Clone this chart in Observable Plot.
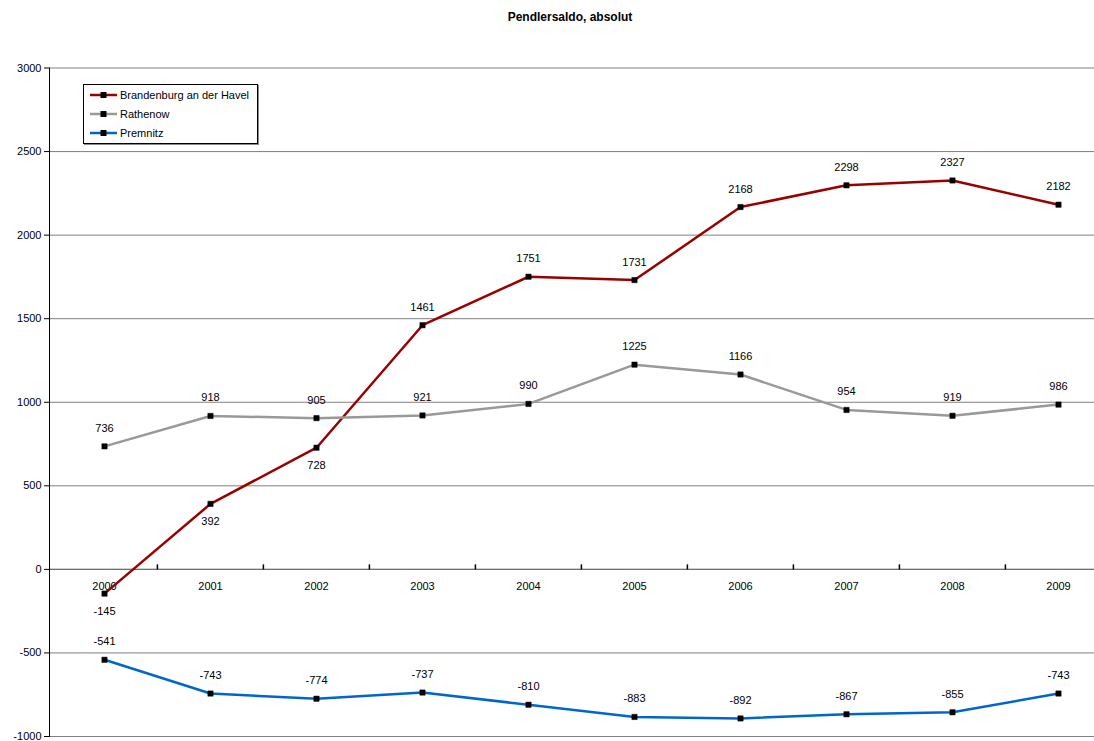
<!DOCTYPE html>
<html>
<head>
<meta charset="utf-8">
<script src="https://cdn.jsdelivr.net/npm/d3@7"></script>
<script src="https://cdn.jsdelivr.net/npm/@observablehq/plot@0.6"></script>
<style>
  body { margin: 0; background: #fff; font-family: "Liberation Sans", Arial, sans-serif; }
  #wrap { position: relative; width: 1094px; height: 741px; }
  #title { position: absolute; top: 10px; left: 0; width: 1140px; text-align: center; font-weight: bold; font-size: 12px; }
  #legend { position: absolute; left: 83px; top: 84px; width: 173px; height: 58px; border: 1px solid #000; background: #fff; font-size: 11px; box-shadow: 1px 1px 0 #888; }
  .item { display: flex; align-items: center; height: 19px; padding-left: 6px; }
  .item svg { margin-right: 3px; }
</style>
</head>
<body>
<div id="wrap">
  <div id="chart"></div>
  <div id="title">Pendlersaldo, absolut</div>
  <div id="legend"></div>
</div>
<script>
const years = [2000, 2001, 2002, 2003, 2004, 2005, 2006, 2007, 2008, 2009];
const seriesNames = ["Brandenburg an der Havel", "Rathenow", "Premnitz"];
const seriesColors = ["#990000", "#999999", "#0066CC"];
const brandenburg = [-145, 392, 728, 1461, 1751, 1731, 2168, 2298, 2327, 2182];
const rathenow = [736, 918, 905, 921, 990, 1225, 1166, 954, 919, 986];
const premnitz = [-541, -743, -774, -737, -810, -883, -892, -867, -855, -743];
const brandenburgLabelSide = ["below", "below", "below", "above", "above", "above", "above", "above", "above", "above"];
const yTicks = [-1000, -500, 0, 500, 1000, 1500, 2000, 2500, 3000];

const seriesValues = [brandenburg, rathenow, premnitz];
const data = [];
seriesValues.forEach((vals, s) => {
  vals.forEach((v, i) => {
    data.push({
      series: seriesNames[s],
      year: years[i],
      value: v,
      side: s === 0 ? brandenburgLabelSide[i] : "above"
    });
  });
});

const xRange = [50, 1112];
const halfBand = (xRange[1] - xRange[0]) / years.length / 2;
const vTick = { draw(ctx) { ctx.moveTo(0, 0); ctx.lineTo(0, -5); } };

const chart = Plot.plot({
  width: 1094,
  height: 741,
  marginLeft: 49,
  marginRight: 0,
  marginTop: 67.5,
  marginBottom: 5,
  style: { fontFamily: "Liberation Sans, Arial, sans-serif", fontSize: "11px", background: "#fff" },
  x: { type: "band", domain: years, padding: 0, range: xRange, axis: null },
  y: { domain: [-1000, 3000], range: [736, 67.5], axis: null },
  color: { domain: seriesNames, range: seriesColors },
  marks: [
    Plot.ruleY(yTicks, { stroke: "#808080", strokeWidth: 1 }),
    Plot.ruleY([0], { stroke: "#707070", strokeWidth: 1.2 }),
    Plot.frame({ anchor: "left", stroke: "#000" }),
    Plot.axisY(yTicks, { tickSize: 5, tickPadding: 3, fontSize: 11, fill: "#000", stroke: "#000", label: null, tickFormat: d => String(d) }),
    Plot.dot(years.slice(1), { x: d => d, y: () => 0, symbol: vTick, stroke: "#000", fill: "none", dx: -halfBand, r: 3 }),
    Plot.text(years, { x: d => d, y: () => 0, text: d => String(d), dy: 17, fontSize: 11, fill: "#000" }),
    Plot.line(data, { x: "year", y: "value", z: "series", stroke: "series", strokeWidth: 2.5 }),
    Plot.dot(data, { x: "year", y: "value", symbol: "square", fill: "#000", stroke: "#000", strokeWidth: 0.5, r: 3 }),
    Plot.text(data.filter(d => d.side === "above"), { x: "year", y: "value", text: d => String(d.value), dy: -18, fontSize: 11, fill: "#000" }),
    Plot.text(data.filter(d => d.side === "below"), { x: "year", y: "value", text: d => String(d.value), dy: 18, fontSize: 11, fill: "#000" })
  ]
});
document.getElementById("chart").appendChild(chart);

const legend = document.getElementById("legend");
seriesNames.forEach((name, i) => {
  const item = document.createElement("div");
  item.className = "item";
  item.innerHTML = `<svg width="27" height="8"><line x1="0" y1="4" x2="27" y2="4" stroke="${seriesColors[i]}" stroke-width="2.5"/><rect x="10.5" y="1" width="6" height="6" fill="#000"/></svg><span>${name}</span>`;
  legend.appendChild(item);
});
</script>
</body>
</html>
